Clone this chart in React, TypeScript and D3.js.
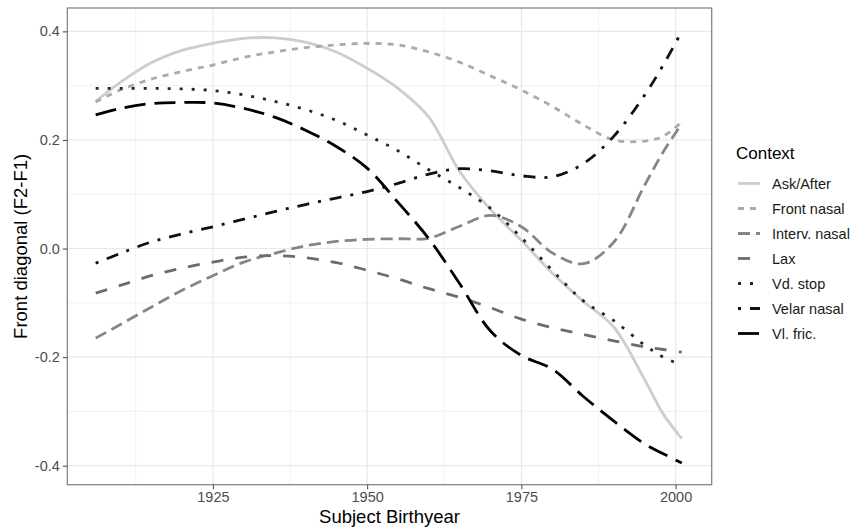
import React, { useEffect, useRef } from 'react';
import * as d3 from 'd3';

// birth years the smooths were read at
const years = [1906, 1910, 1915, 1920, 1925, 1930, 1935, 1940, 1945, 1950, 1955, 1960, 1965, 1970, 1975, 1980, 1985, 1990, 1995, 1998, 2001];

const askAfter = [0.271, 0.306, 0.342, 0.365, 0.378, 0.387, 0.388, 0.38, 0.362, 0.332, 0.295, 0.242, 0.142, 0.072, 0.015, -0.045, -0.097, -0.145, -0.242, -0.305, -0.35];
const frontNasal = [0.27, 0.292, 0.312, 0.326, 0.338, 0.352, 0.362, 0.37, 0.375, 0.378, 0.375, 0.362, 0.343, 0.318, 0.292, 0.262, 0.228, 0.2, 0.198, 0.207, 0.233];
const intervNasal = [-0.165, -0.14, -0.108, -0.077, -0.05, -0.025, -0.009, 0.005, 0.013, 0.017, 0.018, 0.019, 0.041, 0.061, 0.04, -0.008, -0.028, 0.012, 0.117, 0.178, 0.23];
const lax = [-0.082, -0.068, -0.05, -0.036, -0.025, -0.016, -0.013, -0.017, -0.026, -0.04, -0.056, -0.074, -0.09, -0.109, -0.13, -0.146, -0.158, -0.17, -0.181, -0.186, -0.191];
const vdStop = [0.295, 0.295, 0.295, 0.294, 0.291, 0.283, 0.271, 0.256, 0.236, 0.209, 0.18, 0.145, 0.112, 0.074, 0.02, -0.04, -0.096, -0.133, -0.178, -0.2, -0.215];
const velarNasal = [-0.027, -0.009, 0.012, 0.027, 0.04, 0.054, 0.068, 0.081, 0.093, 0.105, 0.12, 0.137, 0.147, 0.143, 0.134, 0.132, 0.156, 0.207, 0.283, 0.338, 0.4];
const vlFric = [0.246, 0.258, 0.267, 0.269, 0.268, 0.258, 0.242, 0.218, 0.188, 0.148, 0.085, 0.018, -0.065, -0.152, -0.197, -0.222, -0.272, -0.318, -0.36, -0.378, -0.395];

const contexts = ['Ask/After', 'Front nasal', 'Interv. nasal', 'Lax', 'Vd. stop', 'Velar nasal', 'Vl. fric.'];
const seriesValues = [askAfter, frontNasal, intervNasal, lax, vdStop, velarNasal, vlFric];
const greys = ['#cdcdcd', '#aaaaaa', '#868686', '#6c6c6c', '#262626', '#111111', '#000000'];
// ggplot linetype codes, in units of line width
const linetypes = ['', '22', '42', '44', '13', '1343', '73'];

const xTicks = [1925, 1950, 1975, 2000];
const xMinor = [1912.5, 1937.5, 1962.5, 1987.5];
const yTicks = [-0.4, -0.2, 0.0, 0.2, 0.4];
const yMinor = [-0.3, -0.1, 0.1, 0.3];

export default function App() {
  const ref = useRef<SVGSVGElement>(null);

  useEffect(() => {
    drawChart();
  }, []);

  function drawChart() {
    const svg = d3.select(ref.current);
    svg.selectAll('*').remove();

    const left = 67.3, right = 711.7, top = 8, bottom = 484.7;
    const x = d3.scaleLinear().domain([1901.4, 2005.85]).range([left, right]);
    const y = d3.scaleLinear().domain([-0.435, 0.443]).range([bottom, top]);
    const font = "'Liberation Sans', Arial, Helvetica, sans-serif";
    const lw = 2.8;
    const unit = 3.0;
    const dash = (code: string) => code === '' ? null : code.split('').map(c => (+c * unit).toFixed(1)).join(',');

    svg.append('rect')
      .attr('x', left).attr('y', top)
      .attr('width', right - left).attr('height', bottom - top)
      .attr('fill', '#fff');

    // grid
    const grid = svg.append('g');
    xMinor.forEach(v => grid.append('line')
      .attr('x1', x(v)).attr('x2', x(v)).attr('y1', top).attr('y2', bottom)
      .attr('stroke', '#efefef').attr('stroke-width', 0.8));
    yMinor.forEach(v => grid.append('line')
      .attr('x1', left).attr('x2', right).attr('y1', y(v)).attr('y2', y(v))
      .attr('stroke', '#efefef').attr('stroke-width', 0.8));
    xTicks.forEach(v => grid.append('line')
      .attr('x1', x(v)).attr('x2', x(v)).attr('y1', top).attr('y2', bottom)
      .attr('stroke', '#e8e8e8').attr('stroke-width', 1.2));
    yTicks.forEach(v => grid.append('line')
      .attr('x1', left).attr('x2', right).attr('y1', y(v)).attr('y2', y(v))
      .attr('stroke', '#e8e8e8').attr('stroke-width', 1.2));

    const line = d3.line<number>()
      .curve(d3.curveCatmullRom.alpha(0.5))
      .x((d, i) => x(years[i]))
      .y(d => y(d));

    const lines = svg.append('g').attr('fill', 'none');
    seriesValues.forEach((vals, k) => {
      lines.append('path')
        .datum(vals)
        .attr('d', line)
        .attr('stroke', greys[k])
        .attr('stroke-width', lw)
        .attr('stroke-dasharray', dash(linetypes[k]))
        .attr('stroke-linecap', 'butt');
    });

    // panel border
    svg.append('rect')
      .attr('x', left).attr('y', top)
      .attr('width', right - left).attr('height', bottom - top)
      .attr('fill', 'none').attr('stroke', '#7d7d7d').attr('stroke-width', 1.2);

    // axes (ggplot prints a plain hyphen for negatives)
    const yFmt = (d: d3.NumberValue) => d3.format('.1f')(+d).replace('\u2212', '-');
    const xAxis = svg.append('g')
      .attr('transform', 'translate(0,' + bottom + ')')
      .call(d3.axisBottom(x).tickValues(xTicks).tickSize(4.5).tickPadding(3).tickFormat(d3.format('d')));
    const yAxis = svg.append('g')
      .attr('transform', 'translate(' + left + ',0)')
      .call(d3.axisLeft(y).tickValues(yTicks).tickSize(4.5).tickPadding(3).tickFormat(yFmt));
    [xAxis, yAxis].forEach(a => {
      a.select('.domain').remove();
      a.selectAll('line').attr('stroke', '#555').attr('stroke-width', 1.1);
      a.selectAll('text').attr('fill', '#4d4d4d').style('font-family', font).style('font-size', '14.5px');
    });

    svg.append('text')
      .attr('x', (left + right) / 2).attr('y', 523)
      .attr('text-anchor', 'middle')
      .style('font-family', font).style('font-size', '18.5px')
      .text('Subject Birthyear');

    svg.append('text')
      .attr('transform', 'translate(27,' + (top + bottom) / 2 + ') rotate(-90)')
      .attr('text-anchor', 'middle')
      .style('font-family', font).style('font-size', '18.5px')
      .text('Front diagonal (F2-F1)');

    // legend
    const legend = svg.append('g');
    legend.append('text')
      .attr('x', 736).attr('y', 159)
      .style('font-family', font).style('font-size', '17px')
      .text('Context');
    contexts.forEach((c, k) => {
      const cy = 183.5 + k * 25;
      legend.append('line')
        .attr('x1', 738).attr('x2', 760).attr('y1', cy).attr('y2', cy)
        .attr('stroke', greys[k]).attr('stroke-width', lw)
        .attr('stroke-dasharray', dash(linetypes[k]));
      legend.append('text')
        .attr('x', 772).attr('y', cy).attr('dy', '0.35em')
        .attr('fill', '#1a1a1a')
        .style('font-family', font).style('font-size', '14.5px')
        .text(c);
    });
  }

  return (
    <div style={{ position: 'absolute', left: 0, top: 0 }}>
      <svg ref={ref} width={858} height={529} style={{ display: 'block', background: '#fff' }} />
    </div>
  );
}
